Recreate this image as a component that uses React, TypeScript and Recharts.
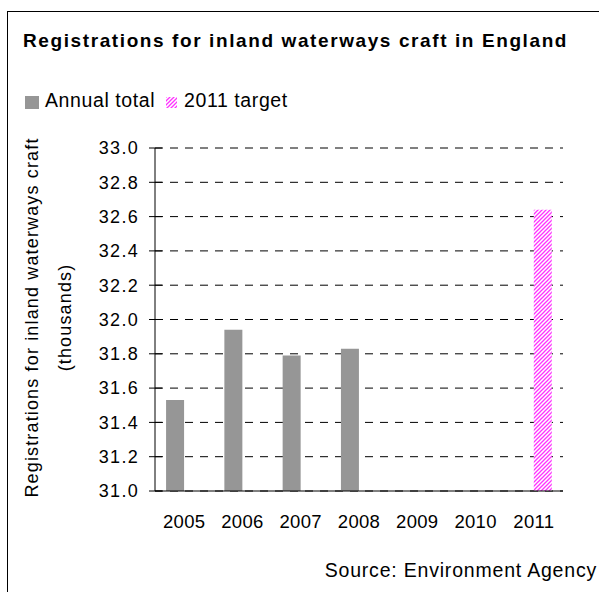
import React from 'react';
import { BarChart, Bar, XAxis, YAxis, CartesianGrid } from 'recharts';

const years = ['2005', '2006', '2007', '2008', '2009', '2010', '2011'];
const annualTotal = [31.53, 31.94, 31.79, 31.83, null, null, null];
const target2011 = [null, null, null, null, null, null, 32.64];
const yTicks = [31.0, 31.2, 31.4, 31.6, 31.8, 32.0, 32.2, 32.4, 32.6, 32.8, 33.0];

const data = years.map((year, i) => ({
  year,
  annual: annualTotal[i],
  target: target2011[i],
}));

const FONT = '"Liberation Sans", Arial, sans-serif';
const PINK = '#ff33ff';
const GREY = '#969696';
const AXIS_X = 155;

const txt: React.CSSProperties = {
  position: 'absolute',
  fontFamily: FONT,
  fontSize: 19.5,
  color: '#000',
  whiteSpace: 'nowrap',
  lineHeight: 'normal',
};

// legend drawn by hand so it doesn't push the plot area down
const LegendBox = () => (
  <div style={{ position: 'absolute', left: 0, top: 0 }}>
    <span style={{ position: 'absolute', left: 25, top: 96, width: 14, height: 13, background: GREY }} />
    <span style={{ ...txt, left: 45, top: 89.4, letterSpacing: 0.6 }}>Annual total</span>
    <svg width={11} height={11} style={{ position: 'absolute', left: 166, top: 97 }}>
      <rect x={0} y={0} width={11} height={11} fill="url(#pinkHatch)" />
    </svg>
    <span style={{ ...txt, left: 184, top: 89.4, letterSpacing: 0.6 }}>2011 target</span>
  </div>
);

// excel style "cross" tick: mark on both sides of the axis
const YTick = (props: any) => {
  const { x, y, payload } = props;
  return (
    <g>
      <line x1={AXIS_X - 6} x2={AXIS_X + 7} y1={y} y2={y} stroke="#000" />
      <text x={x} y={y} dy="0.355em" textAnchor="end" fontFamily={FONT} fontSize={18} letterSpacing={1.3} fill="#000">
        {Number(payload.value).toFixed(1)}
      </text>
    </g>
  );
};

const YLabel = (props: any) => {
  const vb = props.viewBox || {};
  const cy = vb.y + vb.height / 2 - 2;
  return (
    <g fontFamily={FONT} fontSize={18} fill="#000" letterSpacing={1.15}>
      <text transform={`translate(38, ${cy}) rotate(-90)`} textAnchor="middle">
        Registrations for inland waterways craft
      </text>
      <text transform={`translate(71, ${cy}) rotate(-90)`} textAnchor="middle">
        (thousands)
      </text>
    </g>
  );
};

const App = () => {
  return (
    <div style={{ position: 'absolute', left: 0, top: 0, width: 599, height: 592, background: '#fff', overflow: 'hidden' }}>
      <svg width={0} height={0} style={{ position: 'absolute' }}>
        <defs>
          <pattern id="pinkHatch" patternUnits="userSpaceOnUse" width={4} height={4}>
            <rect width={4} height={4} fill="#fff" />
            <path d="M-1,1 l2,-2 M0,4 l4,-4 M3,5 l2,-2" stroke={PINK} strokeWidth={1.3} />
          </pattern>
        </defs>
      </svg>
      <div style={{ position: 'absolute', left: 7, top: 11, width: 640, height: 640, border: '1px solid #000' }} />
      <div style={{ ...txt, left: 23, top: 29.8, fontSize: 19, fontWeight: 'bold', letterSpacing: 1.6 }}>
        Registrations for inland waterways craft in England
      </div>
      <LegendBox />
      <div style={{ position: 'absolute', left: 0, top: 0 }}>
        <BarChart
          width={599}
          height={592}
          data={data}
          margin={{ top: 148, right: 36, bottom: 71, left: 0 }}
          barCategoryGap="19%"
          barGap={0}
        >
          <CartesianGrid vertical={false} stroke="#000" strokeDasharray="8 7" />
          <XAxis
            dataKey="year"
            height={30}
            axisLine={{ stroke: '#000' }}
            tickLine={false}
            tickSize={0}
            tickMargin={24}
            tick={{ fill: '#000', fontSize: 18.5, fontFamily: FONT, letterSpacing: 0.3 }}
          />
          <YAxis
            width={AXIS_X}
            domain={[31, 33]}
            ticks={yTicks}
            allowDataOverflow
            interval={0}
            axisLine={{ stroke: '#000' }}
            tickLine={false}
            tickSize={6}
            tickMargin={10}
            tick={<YTick />}
            label={<YLabel />}
          />
          <Bar dataKey="annual" name="Annual total" fill={GREY} isAnimationActive={false} />
          <Bar dataKey="target" name="2011 target" fill="url(#pinkHatch)" isAnimationActive={false} />
        </BarChart>
      </div>
      <div style={{ ...txt, right: 2, top: 559.4, letterSpacing: 0.8 }}>
        Source: Environment Agency
      </div>
    </div>
  );
};

export default App;
